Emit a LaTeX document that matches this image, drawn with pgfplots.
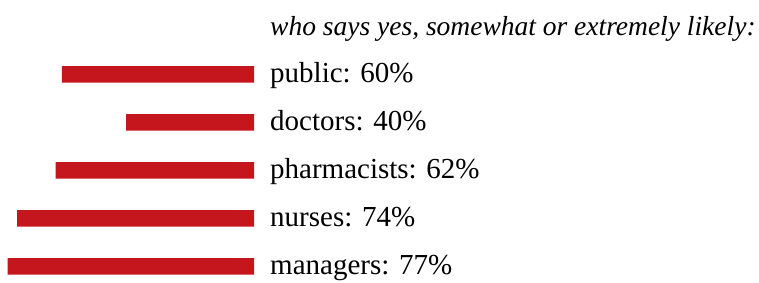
\documentclass[border=0pt]{standalone}
\usepackage{fontspec}
\setmainfont{Liberation Serif}
\usepackage{pgfplots}
\pgfplotsset{compat=1.18}
\definecolor{barred}{RGB}{196,22,28}
\begin{document}
\begin{tikzpicture}
\begin{axis}[
  at={(0,0)}, anchor=south west,
  scale only axis, width=254pt, height=282pt,
  x dir=reverse, y dir=reverse,
  xmin=0, xmax=79.375, ymin=-1.55, ymax=4.325,
  hide axis, xbar, bar width=16.5pt, bar shift=0pt,
  clip=false,
]
\addplot[fill=barred, draw=none] coordinates {(60,0) (40,1) (62,2) (74,3) (77,4)};
\foreach \lab [count=\i from 0] in {public: 60\%, doctors: 40\%, pharmacists: 62\%, nurses: 74\%, managers: 77\%}{
  \edef\temp{\noexpand\node[anchor=base west, inner sep=0pt, xshift=16pt, yshift=-8.5pt, font=\noexpand\fontsize{29}{31}\noexpand\selectfont] at (axis cs:0,\i) {\lab};}
  \temp
}
\node[anchor=base west, inner sep=0pt, xshift=16pt, yshift=-35pt, font=\fontsize{27.5}{29}\selectfont\itshape] at (axis cs:0,-1.55) {who says yes, somewhat or extremely likely:};
\end{axis}
\pgfresetboundingbox
\path (0,0) rectangle (759pt,282pt);
\end{tikzpicture}
\end{document}
